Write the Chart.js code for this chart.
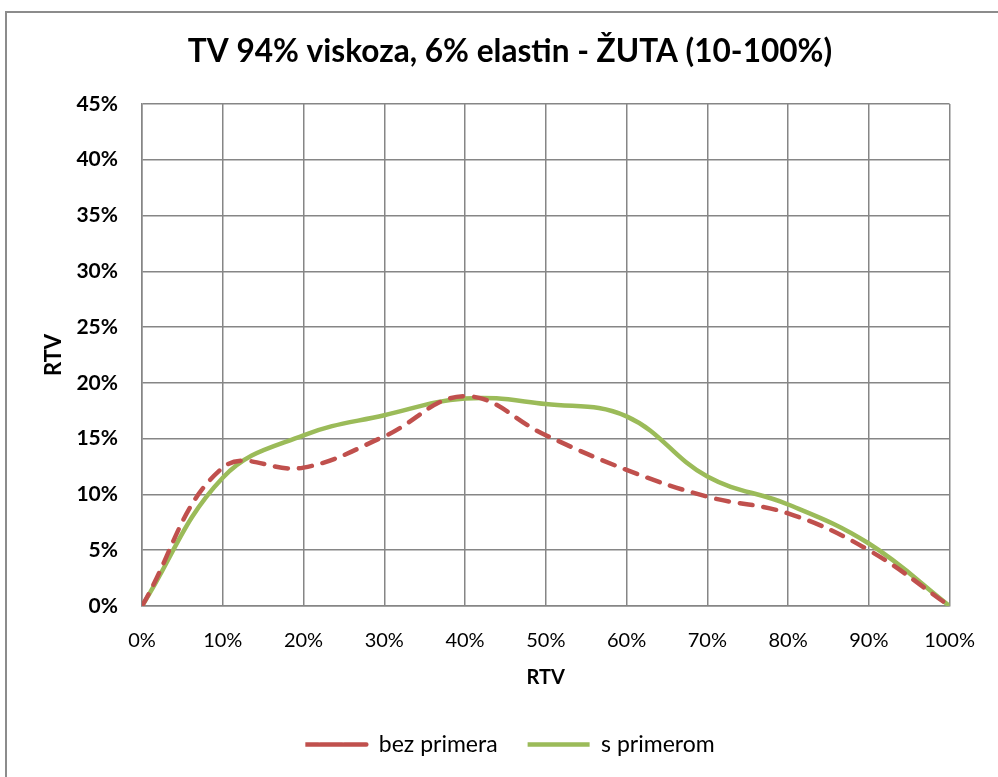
<!DOCTYPE html>
<html>
<head>
<meta charset="utf-8">
<script src="https://cdn.jsdelivr.net/npm/chart.js@4"></script>
<style>
  body { margin: 0; background: #fff; overflow: hidden; }
  #frame { position: absolute; left: 5px; top: 11px; width: 1100px; height: 900px; border: 2px solid #8c8c8c; }
  #chart { position: absolute; left: 0; top: 0; }
</style>
</head>
<body>
<div id="frame"></div>
<canvas id="chart" width="998" height="777"></canvas>
<script>
const rtvInput = [0, 10, 20, 30, 40, 50, 60, 70, 80, 90, 100];
const bezPrimera = [0, 12.4, 12.4, 15.2, 18.8, 15.3, 12.2, 9.8, 8.3, 5.0, 0];
const sPrimerom = [0, 11.5, 15.3, 17.1, 18.6, 18.1, 17.0, 11.6, 9.1, 5.6, 0];

const toPoints = (vals) => rtvInput.map((x, i) => ({ x: x, y: vals[i] }));
const FONT = 'Lato, "Liberation Sans", sans-serif';
const GRID = '#868686';

const ctx = document.getElementById('chart').getContext('2d');
new Chart(ctx, {
  type: 'line',
  data: {
    datasets: [
      {
        label: 'bez primera',
        data: toPoints(bezPrimera),
        borderColor: '#c0504d',
        backgroundColor: '#c0504d',
        borderWidth: 4.5,
        borderDash: [13, 11],
        borderCapStyle: 'round',
        pointRadius: 0,
        tension: 0.4,
      },
      {
        label: 's primerom',
        data: toPoints(sPrimerom),
        borderColor: '#9bbb59',
        backgroundColor: '#9bbb59',
        borderWidth: 4.5,
        borderCapStyle: 'round',
        pointRadius: 0,
        tension: 0.4,
      },
    ],
  },
  options: {
    responsive: false,
    animation: false,
    layout: { padding: { left: 22, right: 0, top: 0, bottom: 11 } },
    plugins: {
      title: {
        display: true,
        text: 'TV 94% viskoza, 6% elastin - ŽUTA (10-100%)',
        color: '#000',
        font: { family: FONT, size: 31.6, weight: 'bold' },
        padding: { top: 33, bottom: 33 },
      },
      legend: {
        position: 'bottom',
        labels: {
          color: '#000',
          font: { family: FONT, size: 23 },
          boxWidth: 62,
          boxHeight: 0,
          padding: 30,
        },
      },
      tooltip: { enabled: false },
    },
    scales: {
      x: {
        type: 'linear',
        min: 0,
        max: 100,
        afterFit: (scale) => { scale.height = 97; },
        ticks: {
          stepSize: 10,
          color: '#000',
          padding: 23,
          font: { family: FONT, size: 20 },
          callback: (v) => v + '%',
        },
        grid: { color: GRID, lineWidth: 1.5, drawTicks: false },
        border: { color: GRID, width: 1.5 },
        title: {
          display: true,
          text: 'RTV',
          color: '#000',
          font: { family: FONT, size: 20, weight: 'bold' },
          padding: { top: 4, bottom: 13 },
        },
      },
      y: {
        min: 0,
        max: 45,
        afterFit: (scale) => { scale.width = 120; },
        ticks: {
          stepSize: 5,
          color: '#000',
          padding: 24,
          font: { family: FONT, size: 21, weight: 'bold' },
          callback: (v) => v + '%',
        },
        grid: { color: GRID, lineWidth: 1.5, drawTicks: false },
        border: { color: GRID, width: 1.5 },
        title: {
          display: true,
          text: 'RTV',
          color: '#000',
          font: { family: FONT, size: 22, weight: 'bold' },
          padding: { top: 19, bottom: 4 },
        },
      },
      yRight: {
        position: 'right',
        min: 0,
        max: 45,
        afterFit: (scale) => { scale.width = 44; },
        ticks: { display: false },
        grid: { display: false, drawTicks: false },
        border: { display: false },
      },
    },
  },
});
</script>
</body>
</html>
